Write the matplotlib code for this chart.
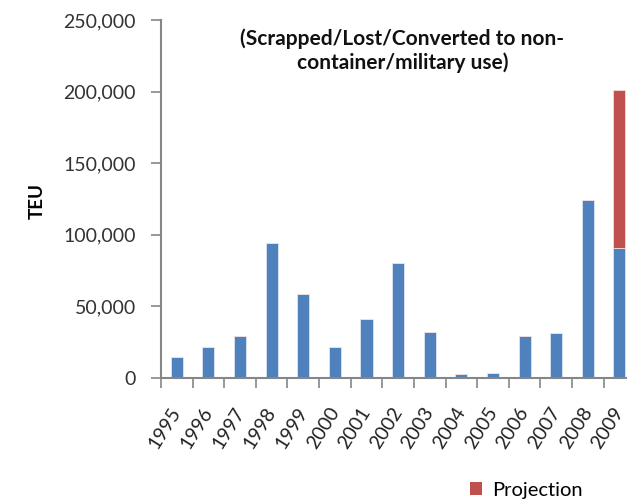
import matplotlib.pyplot as plt
from matplotlib.ticker import FuncFormatter
from matplotlib.patches import Patch
from matplotlib.transforms import ScaledTranslation

# data
years = ['1995', '1996', '1997', '1998', '1999', '2000', '2001', '2002',
         '2003', '2004', '2005', '2006', '2007', '2008', '2009']
removed = [14500, 21500, 29000, 94500, 58500, 21500, 41000, 80000,
           32000, 2500, 3500, 29000, 31500, 124000, 90500]
projection = [0, 0, 0, 0, 0, 0, 0, 0, 0, 0, 0, 0, 0, 0, 110500]

blue = '#4F81BD'
red = '#C0504D'
plt.rcParams['font.family'] = ['Lato', 'DejaVu Sans']

fig = plt.figure(figsize=(6.27, 4.99), dpi=100)
ax = fig.add_axes([0.2568, 0.2425, 0.7432, 0.7175])

x = list(range(len(years)))
ax.bar(x, removed, width=0.38, color=blue, edgecolor='#dce6f2', linewidth=0.6)
ax.bar(x, projection, width=0.38, bottom=removed, color=red,
       edgecolor='#f2dcdb', linewidth=0.6)

ax.set_yticks(range(0, 250001, 50000))
ax.yaxis.set_major_formatter(FuncFormatter(lambda v, p: f'{int(v):,}'))
ax.set_xticks(x)
ax.set_xticklabels(years, rotation=58, ha='right', rotation_mode='anchor')
ax.set_xticks([i - 0.5 for i in range(len(years) + 1)], minor=True)
# limits after ticks, otherwise the minor ticks widen the view
ax.set_xlim(-0.5, 14.24)
ax.set_ylim(0, 250000)

ax.tick_params(axis='x', which='major', length=0, pad=19, labelsize=14, labelcolor='#222222')
ax.tick_params(axis='x', which='minor', length=7, color='#868686', width=1.2)
ax.tick_params(axis='y', length=7, color='#868686', width=1.2, labelsize=14,
               labelcolor='#333333', pad=11)

# shift year labels a little left, like excel does
shift = ScaledTranslation(-5 / 72, 0, fig.dpi_scale_trans)
for lab in ax.get_xticklabels():
    lab.set_transform(lab.get_transform() + shift)

for s in ['top', 'right']:
    ax.spines[s].set_visible(False)
for s in ['left', 'bottom']:
    ax.spines[s].set_color('#868686')
    ax.spines[s].set_linewidth(1.5)

ax.set_ylabel('TEU', fontsize=13.5, fontweight='bold')
ax.yaxis.set_label_coords(-0.248, 0.494)

ax.text(0.518, 0.975, '(Scrapped/Lost/Converted to non-\ncontainer/military use)',
        transform=ax.transAxes, ha='center', va='top', fontsize=15,
        fontweight='bold', linespacing=1.2, color='#111111')

fig.legend(handles=[Patch(facecolor=red, label='Projection')],
           loc='center left', bbox_to_anchor=(0.72, 0.018), frameon=False,
           fontsize=14.5, handlelength=0.6, handleheight=0.65, handletextpad=0.5)

fig.savefig('out.png', dpi=100, facecolor='white')
